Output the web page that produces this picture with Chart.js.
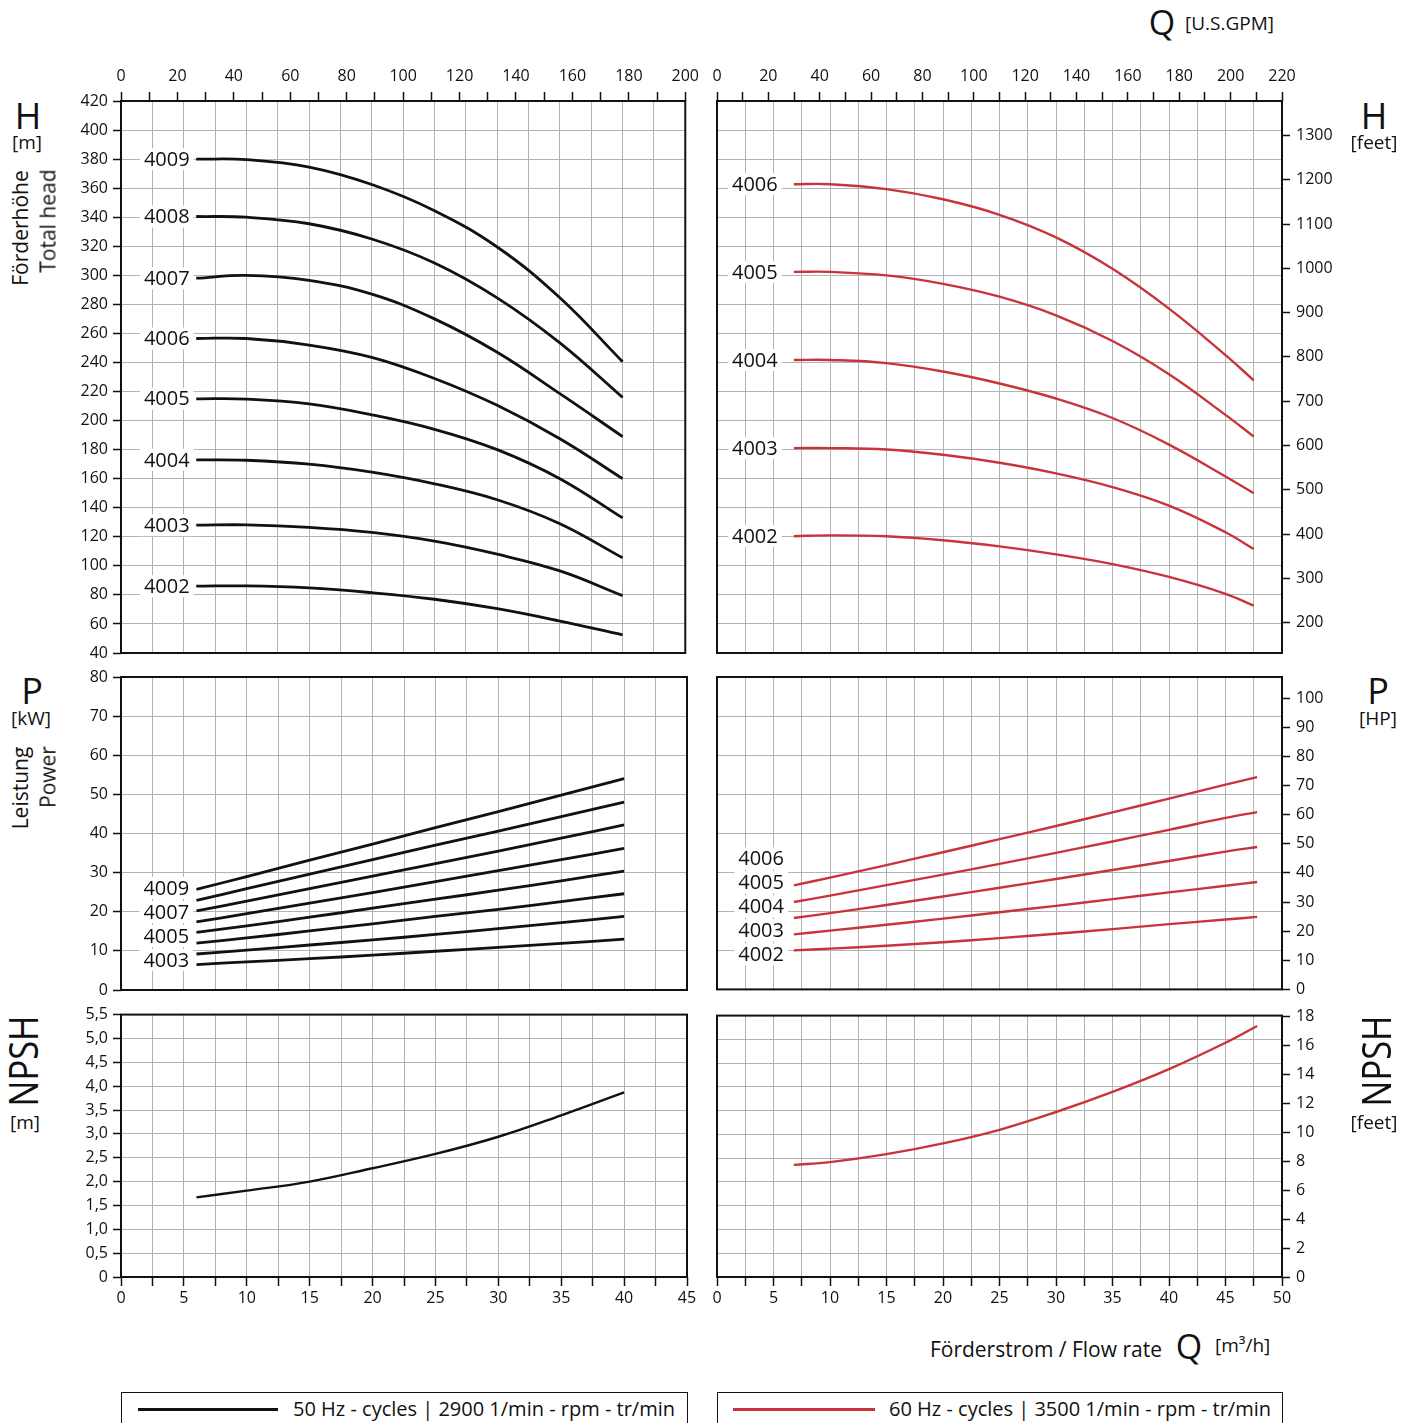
<!DOCTYPE html>
<html><head><meta charset="utf-8">
<script src="https://cdn.jsdelivr.net/npm/chart.js@4.4.1/dist/chart.umd.min.js"></script>
<style>
html,body{margin:0;padding:0;background:#fff;}
body{width:1413px;height:1423px;position:relative;overflow:hidden;font-family:"Open Sans",sans-serif;color:#111;}
canvas{position:absolute;}
.t{position:absolute;white-space:nowrap;line-height:1;}
.c{transform:translate(-50%,-50%);}
.r{transform:translate(-100%,-50%);}
.l{transform:translate(0,-50%);}
.rot{transform:translate(-50%,-50%) rotate(-90deg);}
.rotn{transform:translate(-50%,-50%) rotate(-90deg) scaleX(0.86);}
.box{position:absolute;border:1.5px solid #111;box-sizing:border-box;}
.ln{position:absolute;height:3px;}
</style></head><body>

<canvas id="hL"></canvas><canvas id="hR"></canvas>
<canvas id="pL"></canvas><canvas id="pR"></canvas>
<canvas id="nL"></canvas><canvas id="nR"></canvas>

<div class="t c" style="left:1162px;top:22px;font-size:34px">Q</div>
<div class="t l" style="left:1185px;top:23px;font-size:19px">[U.S.GPM]</div>

<div class="t c" style="left:28px;top:116px;font-size:36px">H</div>
<div class="t c" style="left:27px;top:142px;font-size:19px">[m]</div>
<div class="t rot" style="left:20px;top:228px;font-size:21px">Förderhöhe</div>
<div class="t rot" style="left:48px;top:221px;font-size:21px">Total head</div>
<div class="t c" style="left:1374px;top:116px;font-size:36px">H</div>
<div class="t c" style="left:1374px;top:142px;font-size:19px">[feet]</div>

<div class="t c" style="left:32px;top:691px;font-size:36px">P</div>
<div class="t c" style="left:31px;top:718px;font-size:19px">[kW]</div>
<div class="t rot" style="left:20px;top:788px;font-size:21px">Leistung</div>
<div class="t rot" style="left:48px;top:777px;font-size:21px">Power</div>
<div class="t c" style="left:1378px;top:691px;font-size:36px">P</div>
<div class="t c" style="left:1378px;top:718px;font-size:19px">[HP]</div>

<div class="t rotn" style="left:23px;top:1061px;font-size:40px">NPSH</div>
<div class="t c" style="left:25px;top:1122px;font-size:19px">[m]</div>
<div class="t rotn" style="left:1376px;top:1061px;font-size:40px">NPSH</div>
<div class="t c" style="left:1374px;top:1122px;font-size:19px">[feet]</div>

<div class="t r" style="left:1162px;top:1349px;font-size:21px">Förderstrom / Flow rate</div>
<div class="t c" style="left:1189px;top:1346px;font-size:34px">Q</div>
<div class="t l" style="left:1215px;top:1345px;font-size:19px">[m³/h]</div>

<div class="box" style="left:121px;top:1392px;width:567px;height:45px"></div>
<div class="ln" style="left:138px;top:1408px;width:140px;background:#111"></div>
<div class="t r" style="left:675px;top:1409px;font-size:20px">50 Hz - cycles | 2900 1/min - rpm - tr/min</div>
<div class="box" style="left:717px;top:1392px;width:566px;height:45px"></div>
<div class="ln" style="left:733px;top:1408px;width:142px;background:#c9333b"></div>
<div class="t r" style="left:1271px;top:1409px;font-size:20px">60 Hz - cycles | 3500 1/min - rpm - tr/min</div>

<script>
// ---------------- DATA ----------------
// flow rates Q [m3/h]
const q50H = [6, 10, 15, 20, 25, 30, 35, 40];
const q60H = [6.8, 10, 15, 20, 25, 30, 35, 40, 45, 47.5];
const q50P = [6, 10, 15, 20, 25, 30, 35, 40];
const q60P = [6.8, 10, 15, 20, 25, 30, 35, 40, 45, 47.8];
const q50N = [6, 10, 15, 20, 25, 30, 35, 40];
const q60N = [6.8, 10, 15, 20, 25, 30, 35, 40, 45, 47.8];

const models50 = ['4009', '4008', '4007', '4006', '4005', '4004', '4003', '4002'];
const models60 = ['4006', '4005', '4004', '4003', '4002'];

// head 50 Hz [m]
const h50_4009 = [380, 379.6, 374.5, 362.5, 344.5, 319.5, 284.5, 240.5];
const h50_4008 = [340.5, 340, 335.5, 325, 308.5, 284.5, 253.5, 216];
const h50_4007 = [298, 300, 296.5, 287, 270, 247, 218.5, 189];
const h50_4006 = [256.5, 256.5, 252, 243.5, 229, 210.5, 187.5, 160];
const h50_4005 = [215, 214.8, 211.5, 204, 194, 180, 160, 133];
const h50_4004 = [173, 172.7, 170, 164.5, 156.5, 145.5, 129, 105.5];
const h50_4003 = [128, 128.2, 126.5, 123, 117, 108, 96.5, 79.5];
const h50_4002 = [86, 86.2, 84.8, 81.5, 77, 70.5, 62, 52.5];

// head 60 Hz [feet]
const h60_4006 = [1190, 1190, 1179, 1156, 1121, 1070, 999, 909, 804, 747];
const h60_4005 = [992, 992, 984, 965, 936, 894, 836, 761, 669, 620];
const h60_4004 = [793, 793, 786, 767, 740, 706, 662, 602, 530, 492];
const h60_4003 = [594, 594, 591, 579, 561, 537, 506, 464, 404, 366];
const h60_4002 = [395, 397, 395, 386, 372, 354, 332, 303, 265, 238];

// power 50 Hz [kW]
const p50_4009 = [25.7, 29.0, 33.2, 37.3, 41.5, 45.6, 49.8, 54.0];
const p50_4008 = [22.9, 25.9, 29.6, 33.3, 37.0, 40.6, 44.3, 48.0];
const p50_4007 = [20.2, 22.7, 25.9, 29.1, 32.3, 35.5, 38.8, 42.2];
const p50_4006 = [17.4, 19.5, 22.2, 24.9, 27.7, 30.5, 33.3, 36.2];
const p50_4005 = [14.7, 16.4, 18.6, 20.9, 23.2, 25.5, 27.9, 30.4];
const p50_4004 = [12.0, 13.3, 15.1, 16.9, 18.8, 20.6, 22.6, 24.6];
const p50_4003 = [9.2, 10.2, 11.5, 12.8, 14.2, 15.7, 17.2, 18.8];
const p50_4002 = [6.5, 7.2, 8.0, 8.9, 9.9, 10.9, 11.9, 13.0];

// power 60 Hz [HP]
const p60_4006 = [35.7, 38.4, 42.7, 47.1, 51.6, 56.1, 60.8, 65.5, 70.3, 72.9];
const p60_4005 = [30.0, 32.2, 35.8, 39.4, 43.1, 46.9, 50.8, 54.8, 58.9, 60.9];
const p60_4004 = [24.5, 26.2, 29.0, 31.9, 34.9, 37.9, 41.0, 44.1, 47.3, 48.9];
const p60_4003 = [18.9, 20.2, 22.2, 24.3, 26.5, 28.7, 31.0, 33.3, 35.6, 36.9];
const p60_4002 = [13.4, 14.0, 15.0, 16.2, 17.6, 19.1, 20.7, 22.4, 24.0, 24.9];

// NPSH
const npsh50 = [1.67, 1.81, 2.0, 2.28, 2.58, 2.94, 3.39, 3.87];          // [m]
const npsh60 = [7.74, 7.93, 8.48, 9.22, 10.16, 11.39, 12.78, 14.35, 16.17, 17.33]; // [feet]

// tick labels
const gpmTicks50 = [0, 10, 20, 30, 40, 50, 60, 70, 80, 90, 100, 110, 120, 130, 140, 150, 160, 170, 180, 190, 200];
const gpmTicks60 = [0, 10, 20, 30, 40, 50, 60, 70, 80, 90, 100, 110, 120, 130, 140, 150, 160, 170, 180, 190, 200, 210, 220];
const ftTicksH = [200, 300, 400, 500, 600, 700, 800, 900, 1000, 1100, 1200, 1300];
const hpTicks = [0, 10, 20, 30, 40, 50, 60, 70, 80, 90, 100];
const ftTicksN = [0, 2, 4, 6, 8, 10, 12, 14, 16, 18];

// unit conversions
const M_TO_FT = 1 / 0.3048;
const KW_TO_HP = 1.34102;

// ---------------- DRAWING ----------------
const BLACK = '#111', RED = '#c9333b', GRID = '#b3b3b3';
Chart.defaults.font.family = '"Open Sans", sans-serif';
Chart.defaults.font.size = 16;
Chart.defaults.color = '#111';

const series = (qs, vs) => qs.map((q, i) => ({x: q, y: vs[i]}));

const framePlugin = {
  id: 'frame',
  afterDatasetsDraw(chart) {
    const {ctx, chartArea: a} = chart;
    ctx.save(); ctx.strokeStyle = BLACK; ctx.lineWidth = 2;
    ctx.strokeRect(a.left, a.top, a.right - a.left, a.bottom - a.top);
    ctx.restore();
  }
};
const labelPlugin = {
  id: 'curveLabels',
  beforeDatasetsDraw(chart, args, opts) {
    if (!opts || !opts.items) return;
    const ctx = chart.ctx, xs = chart.scales.x;
    ctx.save();
    ctx.font = '20px "Open Sans", sans-serif';
    ctx.textAlign = 'center'; ctx.textBaseline = 'middle';
    opts.items.forEach(it => {
      const ys = chart.scales[it.axis || 'y'];
      const px = xs.getPixelForValue(it.q), py = ys.getPixelForValue(it.v);
      const w = ctx.measureText(it.text).width + 8, h = 22;
      ctx.fillStyle = '#fff'; ctx.fillRect(px - w / 2, py - h / 2, w, h);
      ctx.fillStyle = '#111'; ctx.fillText(it.text, px, py + 1);
    });
    ctx.restore();
  }
};

function panel(id, g, o) {
  const cv = document.getElementById(id);
  cv.style.left = g.cx + 'px'; cv.style.top = g.cy + 'px';
  cv.style.width = g.cw + 'px'; cv.style.height = g.ch + 'px';
  cv.width = g.cw; cv.height = g.ch;
  const scales = {
    x: {
      type: 'linear', position: 'bottom', min: 0, max: o.xMax,
      ticks: {stepSize: 2.5, display: !!o.bottom, padding: 3, autoSkip: false, maxRotation: 0, minRotation: 0,
              callback: v => (Math.abs(v % 5) < 1e-9 ? String(v) : '')},
      grid: {color: GRID, lineWidth: 1, drawTicks: !!o.bottom, tickLength: 9, tickColor: BLACK, tickWidth: 1.5},
      border: {display: false},
      afterFit: s => { s.height = g.cy + g.ch - g.b; }
    },
    y: {
      type: 'linear', position: 'left', min: o.yMin, max: o.yMax,
      ticks: {stepSize: o.yStep, display: !!o.leftLabels, padding: 5, autoSkip: false,
              callback: o.yFmt || (v => String(v))},
      grid: {color: GRID, lineWidth: 1, drawTicks: !!o.leftLabels, tickLength: 8, tickColor: BLACK, tickWidth: 1.5},
      border: {display: false},
      afterFit: s => { s.width = g.l - g.cx; }
    }
  };
  if (o.imp) {
    scales.yImp = {
      type: 'linear', position: 'right', min: o.imp.min, max: o.imp.max,
      afterBuildTicks: s => { s.ticks = o.imp.ticks.map(v => ({value: v})); },
      ticks: {padding: 6, autoSkip: false, callback: v => String(v)},
      grid: {drawOnChartArea: false, tickLength: 8, tickColor: BLACK, tickWidth: 1.5},
      border: {display: false},
      afterFit: s => { s.width = g.cx + g.cw - g.r; }
    };
  }
  if (o.top) {
    scales.xTop = {
      type: 'linear', axis: 'x', position: 'top', min: 0, max: o.top.max,
      afterBuildTicks: s => { s.ticks = o.top.ticks.map(v => ({value: v})); },
      ticks: {padding: 6, autoSkip: false, maxRotation: 0, minRotation: 0,
              callback: v => (v % 20 === 0 ? String(v) : '')},
      grid: {drawOnChartArea: false, tickLength: 9, tickColor: BLACK, tickWidth: 1.5},
      border: {display: false},
      afterFit: s => { s.height = g.t - g.cy; }
    };
  }
  return new Chart(cv, {
    type: 'line',
    data: {datasets: o.datasets},
    options: {
      responsive: false, animation: false, devicePixelRatio: 1,
      layout: {padding: {left: 0, bottom: 0,
               top: o.top ? 0 : g.t - g.cy,
               right: o.imp ? 0 : g.cx + g.cw - g.r}},
      scales,
      plugins: {legend: {display: false}, tooltip: {enabled: false},
                curveLabels: {items: o.labels || []}}
    },
    plugins: [framePlugin, labelPlugin]
  });
}

function ds(qs, vs, color, width, axis) {
  return {data: series(qs, vs), borderColor: color, borderWidth: width, pointRadius: 0,
          fill: false, tension: 0.4, yAxisID: axis || 'y',
          borderCapStyle: 'butt', borderJoinStyle: 'round'};
}

const head50 = [h50_4009, h50_4008, h50_4007, h50_4006, h50_4005, h50_4004, h50_4003, h50_4002];
const head60 = [h60_4006, h60_4005, h60_4004, h60_4003, h60_4002];
const pow50 = [p50_4009, p50_4008, p50_4007, p50_4006, p50_4005, p50_4004, p50_4003, p50_4002];
const pow60 = [p60_4006, p60_4005, p60_4004, p60_4003, p60_4002];

const GL = {cx: 55, cw: 650, l: 121, r: 687};
const GR = {cx: 705, cw: 650, l: 717, r: 1282};
const RH = {cy: 45, ch: 625, t: 101, b: 653};
const RP = {cy: 660, ch: 345, t: 677, b: 990};
const RN = {cy: 1000, ch: 322, t: 1014, b: 1277};

// H left
panel('hL', {...GL, ...RH}, {
  xMax: 45, yMin: 40, yMax: 420, yStep: 20, leftLabels: true,
  top: {max: 200, ticks: gpmTicks50},
  datasets: head50.map(a => ds(q50H, a, BLACK, 2.8)),
  labels: models50.map((m, i) => ({text: m, q: 3.65, v: head50[i][0]}))
});
// H right
panel('hR', {...GR, ...RH}, {
  xMax: 50, yMin: 40, yMax: 420, yStep: 20, leftLabels: false,
  imp: {min: 40 * M_TO_FT, max: 420 * M_TO_FT, ticks: ftTicksH},
  top: {max: 220, ticks: gpmTicks60},
  datasets: head60.map(a => ds(q60H, a, RED, 2.4, 'yImp')),
  labels: models60.map((m, i) => ({text: m, q: 3.35, v: head60[i][0], axis: 'yImp'}))
});
// P left
const pLab50 = [['4009', 26.1], ['4007', 19.9], ['4005', 13.8], ['4003', 7.7]];
panel('pL', {...GL, ...RP}, {
  xMax: 45, yMin: 0, yMax: 80, yStep: 10, leftLabels: true,
  datasets: pow50.map(a => ds(q50P, a, BLACK, 2.8)),
  labels: pLab50.map(([t, v]) => ({text: t, q: 3.6, v}))
});
// P right
const pLab60 = [['4006', 45.0], ['4005', 36.8], ['4004', 28.5], ['4003', 20.3], ['4002', 12.0]];
panel('pR', {...GR, ...RP}, {
  xMax: 50, yMin: 0, yMax: 80, yStep: 10, leftLabels: false,
  imp: {min: 0, max: 80 * KW_TO_HP, ticks: hpTicks},
  datasets: pow60.map(a => ds(q60P, a, RED, 2.4, 'yImp')),
  labels: pLab60.map(([t, v]) => ({text: t, q: 3.9, v, axis: 'yImp'}))
});
// NPSH left
panel('nL', {...GL, ...RN}, {
  xMax: 45, yMin: 0, yMax: 5.5, yStep: 0.5, leftLabels: true, bottom: true,
  yFmt: v => (v === 0 ? '0' : v.toFixed(1).replace('.', ',')),
  datasets: [ds(q50N, npsh50, BLACK, 2.4)]
});
// NPSH right
panel('nR', {...GR, ...RN}, {
  xMax: 50, yMin: 0, yMax: 5.5, yStep: 0.5, leftLabels: false, bottom: true,
  imp: {min: 0, max: 5.5 * M_TO_FT, ticks: ftTicksN},
  datasets: [ds(q60N, npsh60, RED, 2.4, 'yImp')]
});
</script>
</body></html>
